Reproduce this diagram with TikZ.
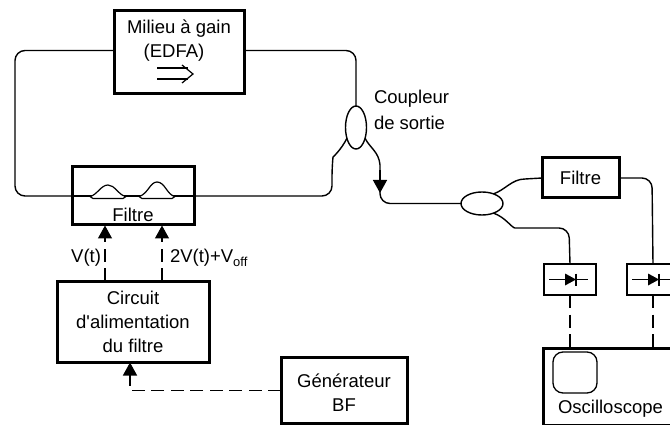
\documentclass[tikz,border=0pt]{standalone}
\usepackage{fontspec}
\setmainfont{Liberation Sans}
\usetikzlibrary{arrows.meta,positioning,shapes.geometric}

\begin{document}
\begin{tikzpicture}[x=1pt,y=-1pt,>={Triangle[length=13pt,width=14pt]},
every node/.style={font=\fontsize{18.5}{24}\selectfont,inner sep=0pt,outer sep=0pt},
bigbox/.style={draw,line width=3pt,align=center},
diodebox/.style={draw,line width=1.5pt,minimum width=52pt,minimum height=31pt},
coupler/.style={draw,ellipse,line width=1.4pt},
fibre/.style={line width=1.4pt,rounded corners=10pt},
ctrl/.style={->,line width=1.4pt,dash pattern=on 13pt off 6.5pt},
elec/.style={line width=1.4pt,dash pattern=on 13pt off 6.5pt},
bump/.style={line width=1.2pt,fill=white}]
\clip (0,0) rectangle (670,425);
\node[bigbox,minimum width=130pt,minimum height=83pt] (edfa) at (179,52.5) {};
\node[below=9pt of edfa.north,align=center] (edfatxt) {Milieu à gain\\(EDFA)\hspace*{10pt}};
\node[bigbox,below=73pt of edfa,xshift=-46pt,minimum width=122pt,minimum height=58pt] (filtre) {};
\node[above=3pt of filtre.south] (filtretxt) {Filtre};
\node[bigbox,below=56pt of filtre,minimum width=152pt,minimum height=81pt] (circuit) {Circuit\\d\textquotesingle alimentation\\du filtre};
\node[bigbox,right=72pt of circuit,yshift=-69pt,minimum width=126pt,minimum height=66pt] (gen) {};
\node[align=center,yshift=-2pt] (gentxt) at (gen.center) {Générateur\\BF};
\node[coupler,minimum width=21pt,minimum height=43pt] (sortie) at (356,127.5) {};
\node[coupler,minimum width=42pt,minimum height=23pt] (split) at (482,203.5) {};
\node[bigbox,minimum width=77pt,minimum height=40pt] (filtreout) at (580.5,178) {Filtre};
\node[diodebox,below=66pt of filtreout,xshift=-10.5pt] (pd1) {};
\node[diodebox,right=31pt of pd1] (pd2) {};
\node[bigbox,below=53pt of pd1,xshift=46.5pt,minimum width=147pt,minimum height=77pt] (scope) {};
\node[draw,line width=1.3pt,rounded corners=10pt,minimum width=44pt,minimum height=41pt,below right=4pt and 10pt of scope.north west] (screen) {};
\node[below=7pt of screen.south west,xshift=5pt,anchor=north west] (scopetxt) {Oscilloscope};
\node[anchor=west] (couptxt) at (374,99) {Coupleur};
\node[anchor=west] (sorttxt) at (374,123) {de sortie};
\node[anchor=east] (vtxt) at (101,258) {V(t)};
\node[anchor=west] (vofftxt) at (170,258) {2V(t)+V\textsubscript{off}};
% boucle
\draw[fibre] ([yshift=2pt]edfa.west) -- (15,50.5) -- (15,196) -- (filtre.west);
\draw[fibre] ([yshift=2pt]edfa.east) -- (356,50.5) -- (sortie.north);
\draw[fibre] (filtre.east) -- (332,196) -- (332,167) .. controls (333,157) and (341,150) .. (sortie.-130);
\draw[line width=1.4pt] (filtre.west) -- (filtre.east);
\draw[bump] (90,196.5) .. controls (97,195) and (101,185) .. (108,185) .. controls (115,185) and (118,195) .. (126,196.5) -- (123,198.5) -- (93,198.5) -- cycle;
\draw[bump] (139,196.5) .. controls (148,194) and (150,182) .. (157,182) .. controls (165,182) and (167,195) .. (175,196.5) -- (172,198.5) -- (142,198.5) -- cycle;
% sortie
\draw[line width=1.4pt] (sortie.-50) .. controls (370,148) and (379,152) .. (380,165) -- (380,180);
\draw[->,line width=1.4pt] (380,170) -- (380,193);
\draw[fibre] (380,190) -- (380,203.5) -- (split.west);
\draw[line width=1.4pt] (split.40) .. controls (505,190) and (512,179) .. (525,179) -- (filtreout.west);
\draw[fibre] (split.-40) .. controls (505,217) and (512,228) .. (525,228) -- (569,228) -- (pd1.north);
\draw[fibre] (filtreout.east) -- (652,178) -- (pd2.north);
\foreach \d in {pd1,pd2}{
\draw[line width=1.3pt] ([xshift=-21pt]\d.center) -- ([xshift=18pt]\d.center);
\fill ([shift={(-5pt,6pt)}]\d.center) -- ([xshift=6pt]\d.center) -- ([shift={(-5pt,-6pt)}]\d.center) -- cycle;
\draw[line width=1.6pt] ([shift={(6pt,6pt)}]\d.center) -- ([shift={(6pt,-6pt)}]\d.center);
\draw[elec] (\d.south) -- (\d.south |- scope.north);
}
% commande
\coordinate (vone) at (105,225.5);
\coordinate (vtwo) at (162,225.5);
\draw[ctrl] (vone |- circuit.north) -- (vone);
\draw[ctrl] (vtwo |- circuit.north) -- (vtwo);
\draw[ctrl] (gen.west) -| (130,362.5);
% pompe
\draw[line width=1.2pt] (157,68) -- (188,68);
\draw[line width=1.2pt] (157,79) -- (188,79);
\draw[line width=1.2pt] (182,65) -- (193,74) -- (182,83);
\end{tikzpicture}
\end{document}
